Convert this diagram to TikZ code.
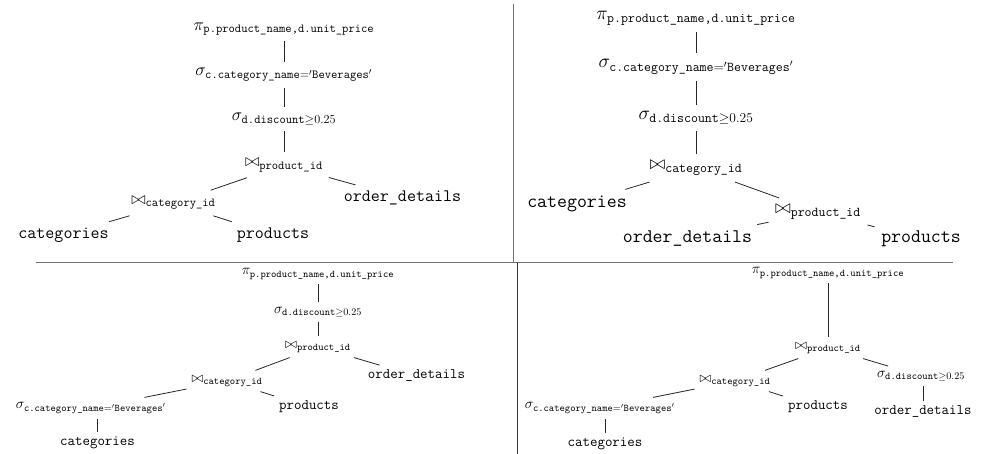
\RequirePackage{fix-cm}
\documentclass[tikz,border=0pt]{standalone}
\usepackage{amsmath}
\newcommand\PiLab{$\pi_{\texttt{p.product\_name,d.unit\_price}}$}
\newcommand\SigC{$\sigma_{\texttt{c.category\_name}='\texttt{Beverages}'}$}
\newcommand\SigD{$\sigma_{\texttt{d.discount}\geq0.25}$}
\newcommand\JP{$\bowtie_{\texttt{product\_id}}$}
\newcommand\JC{$\bowtie_{\texttt{category\_id}}$}
\newcommand\LCat{\texttt{categories}}
\newcommand\LProd{\texttt{products}}
\newcommand\LOrd{\texttt{order\_details}}
\tikzset{
  tl/.style={font=\fontsize{17.5}{21}\selectfont, inner sep=5.8pt},
  tr/.style={font=\fontsize{19.3}{23}\selectfont, inner sep=6.4pt},
  bq/.style={font=\fontsize{14.5}{17}\selectfont, inner sep=4.8pt},
  edge/.style={line width=0.8pt, black!85},
  rule/.style={line width=1.1pt, black!55}
}
\begin{document}
\begin{tikzpicture}[x=1pt,y=-1pt]
\useasboundingbox (0,0) rectangle (982,454);
% dividers
\draw[rule] (513.5,4) -- (513.5,263);
\draw[rule] (36,262.5) -- (953,262.5);
\draw[rule, black!80] (517.7,263) -- (517.7,454);
% top-left
\node[tl] (a1) at (284,29) {\PiLab};
\node[tl] (a2) at (284,75) {\SigC};
\node[tl] (a3) at (284,119) {\SigD};
\node[tl] (a4) at (284,165) {\JP};
\node[tl] (a5) at (173.5,203) {\JC};
\node[tl] (a6) at (402.5,198) {\LOrd};
\node[tl] (a7) at (63.5,235) {\LCat};
\node[tl] (a8) at (273,235) {\LProd};
\draw[edge] (a1) -- (a2);
\draw[edge] (a2) -- (a3);
\draw[edge] (a3) -- (a4);
\draw[edge] (a4) -- (a5);
\draw[edge] (a4) -- (a6);
\draw[edge] (a5) -- (a7);
\draw[edge] (a5) -- (a8);
% top-right
\node[tr] (b1) at (696,18) {\PiLab};
\node[tr] (b2) at (696,67) {\SigC};
\node[tr] (b3) at (696,118) {\SigD};
\node[tr] (b4) at (696,168) {\JC};
\node[tr] (b5) at (577,204) {\LCat};
\node[tr] (b6) at (818,212) {\JP};
\node[tr] (b7) at (687.5,239) {\LOrd};
\node[tr] (b8) at (921,239) {\LProd};
\draw[edge] (b1) -- (b2);
\draw[edge] (b2) -- (b3);
\draw[edge] (b3) -- (b4);
\draw[edge] (b4) -- (b5);
\draw[edge] (b4) -- (b6);
\draw[edge] (b6) -- (b7);
\draw[edge] (b6) -- (b8);
% bottom-left
\node[bq] (c1) at (318,274) {\PiLab};
\node[bq] (c2) at (318,312) {\SigD};
\node[bq] (c3) at (318,347) {\JP};
\node[bq] (c4) at (227,381) {\JC};
\node[bq] (c5) at (416.5,376) {\LOrd};
\node[bq] (c6) at (91,408) {\SigC};
\node[bq] (c7) at (309,407) {\LProd};
\node[bq] (c8) at (97.5,443) {\LCat};
\draw[edge] (c1) -- (c2);
\draw[edge] (c2) -- (c3);
\draw[edge] (c3) -- (c4);
\draw[edge] (c3) -- (c5);
\draw[edge] (c4) -- (c6);
\draw[edge] (c4) -- (c7);
\draw[edge] (c8) -- (c8 |- c6.south);
% bottom-right
\node[bq] (d1) at (828,273) {\PiLab};
\node[bq] (d2) at (828,348) {\JP};
\node[bq] (d3) at (735,381) {\JC};
\node[bq] (d4) at (921,376) {\SigD};
\node[bq] (d5) at (923,412) {\LOrd};
\node[bq] (d6) at (600,408) {\SigC};
\node[bq] (d7) at (818,407) {\LProd};
\node[bq] (d8) at (605,444) {\LCat};
\draw[edge] (d1) -- (d2);
\draw[edge] (d2) -- (d3);
\draw[edge] (d2) -- (d4);
\draw[edge] (d5) -- (d5 |- d4.south);
\draw[edge] (d3) -- (d6);
\draw[edge] (d3) -- (d7);
\draw[edge] (d8) -- (d8 |- d6.south);
\end{tikzpicture}
\end{document}
